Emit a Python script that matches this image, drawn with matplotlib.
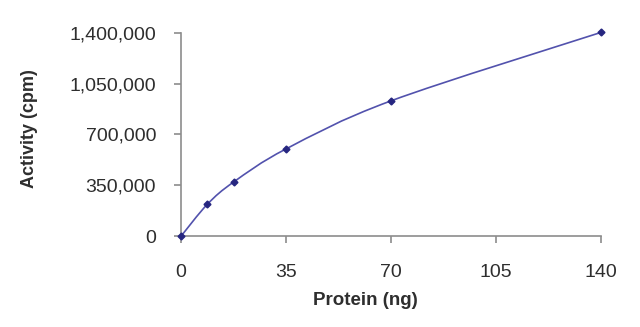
"""
Activity versus protein amount, Excel style smoothed line
"""

import matplotlib
matplotlib.use("Agg")
import matplotlib.pyplot as plt
import numpy as np
from matplotlib.path import Path
from matplotlib.patches import PathPatch
from matplotlib.ticker import FuncFormatter

protein = [0, 8.75, 17.5, 35, 70, 140]
activity = [0, 219000, 372000, 600000, 931000, 1402000]
x_ticks = [0, 35, 70, 105, 140]
y_ticks = [0, 350000, 700000, 1050000, 1400000]

plt.rcParams["font.family"] = ["Liberation Sans", "DejaVu Sans"]

LINE = "#5252ad"
MARK = "#262680"
AXIS = "#8c8c8c"
TEXT = "#2e2e2e"


def smooth_path(xs, ys, tension=1.0 / 6):
    """
    Catmull-Rom style bezier path through the points
    """
    xs = np.asarray(xs, float)
    ys = np.asarray(ys, float)
    verts = [(xs[0], ys[0])]
    codes = [Path.MOVETO]
    n = len(xs)
    for i in range(n - 1):
        i0 = max(i - 1, 0)
        i3 = min(i + 2, n - 1)
        c1 = (xs[i] + (xs[i + 1] - xs[i0]) * tension, ys[i] + (ys[i + 1] - ys[i0]) * tension)
        c2 = (xs[i + 1] - (xs[i3] - xs[i]) * tension, ys[i + 1] - (ys[i3] - ys[i]) * tension)
        verts += [c1, c2, (xs[i + 1], ys[i + 1])]
        codes += [Path.CURVE4] * 3
    return Path(verts, codes)


fig = plt.figure(figsize=(6.4, 3.27), dpi=100)
ax = fig.add_axes([0.283, 0.278, 0.656, 0.622])

patch = PathPatch(smooth_path(protein, activity), facecolor="none",
                  edgecolor=LINE, linewidth=1.2, clip_on=False)
ax.add_patch(patch)
ax.plot(protein, activity, linestyle="none", marker="D", markersize=3.5,
        color=MARK, clip_on=False, zorder=3)

ax.set_xlim(0, 140)
ax.set_ylim(0, 1400000)
ax.set_xticks(x_ticks)
ax.set_yticks(y_ticks)
ax.yaxis.set_major_formatter(FuncFormatter(lambda v, p: f"{int(v):,}"))

for side in ["top", "right"]:
    ax.spines[side].set_visible(False)
for side in ["left", "bottom"]:
    ax.spines[side].set_color(AXIS)
    ax.spines[side].set_linewidth(1.2)

ax.tick_params(axis="both", colors=AXIS, length=5, width=1.2, direction="out",
               labelcolor=TEXT, labelsize=14)
ax.tick_params(axis="x", pad=15)
ax.tick_params(axis="y", pad=13)

ax.set_xlabel("Protein (ng)", fontsize=13.5, fontweight="bold", color=TEXT)
ax.set_ylabel("Activity (cpm)", fontsize=13, fontweight="bold", color=TEXT)
ax.xaxis.set_label_coords(0.44, -0.315)
ax.yaxis.set_label_coords(-0.36, 0.527)
ax.xaxis.label.set_va("center")
ax.yaxis.label.set_va("center")

fig.savefig("out.png", dpi=100)
